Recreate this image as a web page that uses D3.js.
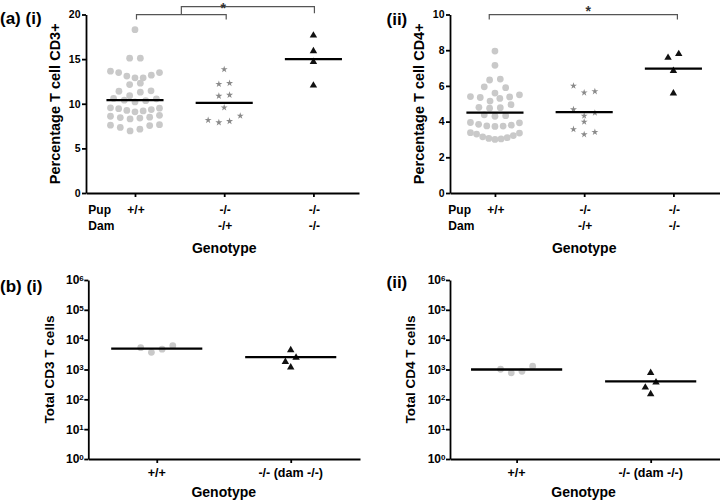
<!DOCTYPE html>
<html>
<head>
<meta charset="utf-8">
<script src="https://cdn.jsdelivr.net/npm/d3@7"></script>
<style>
  html, body { margin: 0; padding: 0; background: #fff; }
  svg { display: block; }
</style>
</head>
<body>
<script>
// ---------------- DATA ----------------
const topCategories = ["+/+", "-/- (dam -/+)", "-/- (dam -/-)"];
const pupLabels = ["+/+", "-/-", "-/-"];
const damLabels = ["", "-/+", "-/-"];

// (a)(i) Percentage T cell CD3+
const cd3Wt = [18.3, 15.1, 15.1, 13.65, 13.5, 13.5, 13.2, 13.1, 12.9, 12.9, 12.3, 12.15,
  11.45, 11.4, 11.3, 10.9, 10.6, 10.55, 10.4, 10.35, 10.2, 9.55, 9.5, 9.45, 9.35, 9.25,
  9.2, 9.1, 8.7, 8.6, 8.5, 8.45, 8.4, 8.3, 7.65, 7.6, 7.55, 7.35, 7.15, 6.95];
const cd3HetDam = [13.85, 12.3, 12.2, 10.98, 10.87, 9.57, 8.64, 8.16, 8.04, 7.9];
const cd3KoDam = [17.65, 15.9, 14.7, 12.05];
const cd3Means = [10.4, 10.1, 15.0];
const cd3Ticks = [0, 5, 10, 15, 20];

// (a)(ii) Percentage T cell CD4+
const cd4Wt = [7.95, 7.15, 6.38, 6.33, 5.95, 5.9, 5.6, 5.5, 5.4, 5.38, 5.35, 5.3, 5.15,
  4.95, 4.8, 4.78, 4.75, 4.38, 4.33, 4.3, 3.95, 3.93, 3.85, 3.8, 3.76, 3.75, 3.73,
  3.38, 3.36, 3.3, 3.22, 3.15, 3.1, 3.06, 3.03, 3.0];
const cd4HetDam = [6.0, 5.69, 5.62, 4.68, 4.49, 4.32, 3.99, 3.57, 3.41, 3.28];
const cd4KoDam = [7.79, 7.58, 6.85, 5.58];
const cd4Means = [4.5, 4.53, 6.97];
const cd4Ticks = [0, 2, 4, 6, 8, 10];

// (b) totals
const bottomCategories = ["+/+", "-/- (dam -/-)"];
const totalCd3Wt = [5370, 3780, 4780, 6290];
const totalCd3Ko = [4470, 2500, 1820, 1180];
const totalCd3Means = [5000, 2600];
const totalCd4Wt = [1020, 775, 870, 1290];
const totalCd4Ko = [775, 370, 250, 151];
const totalCd4Means = [1000, 400];
const logTicks = [1, 10, 100, 1000, 10000, 100000, 1000000];

// ---------------- STYLE ----------------
const FONT = "'Liberation Sans', Arial, Helvetica, sans-serif";
const markerStyles = {
  circle: { fill: "#c9c9c9", type: d3.symbolCircle, size: 36 },
  star: { fill: "#8a8a8a", type: d3.symbolStar, size: 15 },
  triangle: { fill: "#111", type: d3.symbolTriangle, size: 24 }
};

const svg = d3.select("body").append("svg")
  .attr("width", 720).attr("height", 502)
  .style("background", "#fff")
  .attr("font-family", FONT).attr("font-weight", "bold");

// Prism-like row swarm layout
function layoutSwarm(values, y, spacing, thresh, maxSpan) {
  const pts = values.map(v => ({ v, py: y(v), dx: 0 }));
  const sorted = pts.slice().sort((a, b) => a.py - b.py);
  const rows = [];
  let cur = null, start = 0;
  sorted.forEach(p => {
    if (cur && p.py - start <= thresh) cur.push(p);
    else { cur = [p]; start = p.py; rows.push(cur); }
  });
  rows.forEach(row => {
    const n = row.length;
    const s = n > 1 ? Math.min(spacing, maxSpan / (n - 1)) : 0;
    const slots = [];
    if (n % 2) { slots.push(0); for (let k = 1; k <= (n - 1) / 2; k++) slots.push(k * s, -k * s); }
    else { for (let k = 0; k < n / 2; k++) slots.push(-(k + 0.5) * s, (k + 0.5) * s); }
    row.slice().sort((a, b) => b.py - a.py).forEach((p, i) => p.dx = slots[i]);
  });
  return pts;
}

function drawPanel(cfg) {
  const g = svg.append("g");
  const x = d3.scalePoint().domain(cfg.cats).range([cfg.left, cfg.right])
    .padding(cfg.pad).align(cfg.align);
  const y = cfg.log
    ? d3.scaleLog().domain([1, 1e6]).range([cfg.bottom, cfg.top])
    : d3.scaleLinear().domain(cfg.domain).range([cfg.bottom, cfg.top]);

  // y axis
  const yAxis = d3.axisLeft(y).tickValues(cfg.ticks).tickSize(4).tickSizeOuter(0).tickPadding(cfg.log ? 0.5 : 1.5);
  if (!cfg.log) yAxis.tickFormat(d3.format("d"));
  const ya = g.append("g").attr("transform", `translate(${cfg.left},0)`).call(yAxis);
  ya.selectAll("path, line").attr("stroke", "#000").attr("stroke-width", 1.8);
  ya.selectAll("text").attr("font-family", FONT).attr("font-weight", "bold")
    .attr("font-size", cfg.log ? 12 : 10.5).attr("fill", "#000");
  if (cfg.log) {
    ya.selectAll("text").each(function (d) {
      const t = d3.select(this).text("");
      t.append("tspan").text("10");
      t.append("tspan").attr("font-size", 8).attr("dy", "-0.45em").text(Math.round(Math.log10(d)));
    });
  }

  // x axis
  const xa = g.append("g").attr("transform", `translate(0,${cfg.bottom})`)
    .call(d3.axisBottom(x).tickSize(4).tickSizeOuter(0).tickFormat(""));
  xa.selectAll("path, line").attr("stroke", "#000").attr("stroke-width", 1.8);

  // x labels
  if (cfg.pup) {
    g.append("text").attr("x", cfg.pupX).attr("y", 214).attr("font-size", 12).text("Pup");
    g.append("text").attr("x", cfg.pupX).attr("y", 230).attr("font-size", 12).text("Dam");
    g.selectAll(".pl").data(cfg.cats).enter().append("text")
      .attr("x", d => x(d) + 1).attr("y", 214).attr("text-anchor", "middle").attr("font-size", 12)
      .text((d, i) => cfg.pup[i]);
    g.selectAll(".dl").data(cfg.cats).enter().append("text")
      .attr("x", d => x(d) + 1).attr("y", 230).attr("text-anchor", "middle").attr("font-size", 12)
      .text((d, i) => cfg.dam[i]);
  } else {
    g.selectAll(".cl").data(cfg.cats).enter().append("text")
      .attr("x", d => x(d)).attr("y", 477).attr("text-anchor", "middle").attr("font-size", 12.5)
      .text(d => d);
  }

  // axis titles
  const xs = cfg.cats.map(c => x(c));
  g.append("text").attr("x", (d3.min(xs) + d3.max(xs)) / 2).attr("y", cfg.genoY)
    .attr("text-anchor", "middle").attr("font-size", 14).text("Genotype");
  const ymid = (cfg.top + cfg.bottom) / 2;
  g.append("text").attr("transform", `translate(${cfg.left - cfg.titleOff},${ymid}) rotate(-90)`)
    .attr("text-anchor", "middle").attr("font-size", cfg.titleSize).text(cfg.title);
  g.append("text").attr("x", cfg.labelX).attr("y", cfg.labelY).attr("font-size", 17).text(cfg.label);

  // points
  cfg.series.forEach((vals, i) => {
    const st = markerStyles[cfg.markers[i]];
    const pts = layoutSwarm(vals, y, 10.7, 7.2, 49);
    const cx = x(cfg.cats[i]);
    g.append("g").selectAll("path").data(pts).enter().append("path")
      .attr("d", d3.symbol().type(st.type).size(st.size))
      .attr("transform", d => `translate(${cx + d.dx},${d.py})`)
      .attr("fill", st.fill);
  });

  // mean lines
  const half = x.step() * cfg.meanFrac;
  g.append("g").selectAll("line").data(cfg.means).enter().append("line")
    .attr("x1", (d, i) => x(cfg.cats[i]) - half)
    .attr("x2", (d, i) => x(cfg.cats[i]) + half)
    .attr("y1", d => y(d)).attr("y2", d => y(d))
    .attr("stroke", "#000").attr("stroke-width", 2.3);

  return { x, y, g };
}

// ---------------- PANELS ----------------
const pA1 = drawPanel({
  cats: topCategories, left: 86, right: 359, pad: 0.53, align: 0.518,
  top: 14.5, bottom: 193, domain: [0, 20], ticks: cd3Ticks,
  series: [cd3Wt, cd3HetDam, cd3KoDam], markers: ["circle", "star", "triangle"], means: cd3Means,
  pup: pupLabels, dam: damLabels, pupX: 88.3, genoY: 252.5,
  title: "Percentage T cell CD3+", titleSize: 14.5, titleOff: 26,
  label: "(a) (i)", labelX: 0, labelY: 24, meanFrac: 0.32
});
const pA2 = drawPanel({
  cats: topCategories, left: 450, right: 720, pad: 0.513, align: 0.491,
  top: 14.5, bottom: 193, domain: [0, 10], ticks: cd4Ticks,
  series: [cd4Wt, cd4HetDam, cd4KoDam], markers: ["circle", "star", "triangle"], means: cd4Means,
  pup: pupLabels, dam: damLabels, pupX: 448.3, genoY: 252.5,
  title: "Percentage T cell CD4+", titleSize: 14.5, titleOff: 26,
  label: "(ii)", labelX: 386.5, labelY: 25, meanFrac: 0.32
});
drawPanel({
  cats: bottomCategories, left: 88.3, right: 360, pad: 0.514, align: 0.497,
  top: 280, bottom: 459, log: true, ticks: logTicks,
  series: [totalCd3Wt, totalCd3Ko], markers: ["circle", "triangle"], means: totalCd3Means,
  genoY: 496.5, title: "Total CD3 T cells", titleSize: 13.5, titleOff: 34,
  label: "(b) (i)", labelX: 0, labelY: 291.5, meanFrac: 0.34
});
drawPanel({
  cats: bottomCategories, left: 450, right: 720, pad: 0.507, align: 0.49,
  top: 280, bottom: 459, log: true, ticks: logTicks,
  series: [totalCd4Wt, totalCd4Ko], markers: ["circle", "triangle"], means: totalCd4Means,
  genoY: 496.5, title: "Total CD4 T cells", titleSize: 13.5, titleOff: 35,
  label: "(ii)", labelX: 386.5, labelY: 288, meanFrac: 0.34
});

// ---------------- SIGNIFICANCE BRACKETS ----------------
const brk = svg.append("g").attr("stroke", "#555").attr("stroke-width", 1.2).attr("fill", "none");
{
  const x = pA1.x;
  const a = x(topCategories[0]) + 1.5, b = x(topCategories[1]) + 2, c = x(topCategories[2]) + 1;
  const m = (a + b) / 2;
  brk.append("path").attr("d", `M${a},19.5V14.7H${b}V19.5`);
  brk.append("path").attr("d", `M${m},14.7V6.7H${c}V13.3`);
  svg.append("text").attr("x", x(topCategories[1]) - 1).attr("y", 12.5)
    .attr("text-anchor", "middle").attr("font-size", 14).attr("fill", "#333").text("*");
}
{
  const x = pA2.x;
  const a = x(topCategories[0]) - 5.7, c = x(topCategories[2]) + 4;
  brk.append("path").attr("d", `M${a},19.5V14.7H${c}V19.5`);
  svg.append("text").attr("x", x(topCategories[1]) + 4).attr("y", 16)
    .attr("text-anchor", "middle").attr("font-size", 14).attr("fill", "#333").text("*");
}
</script>
</body>
</html>
